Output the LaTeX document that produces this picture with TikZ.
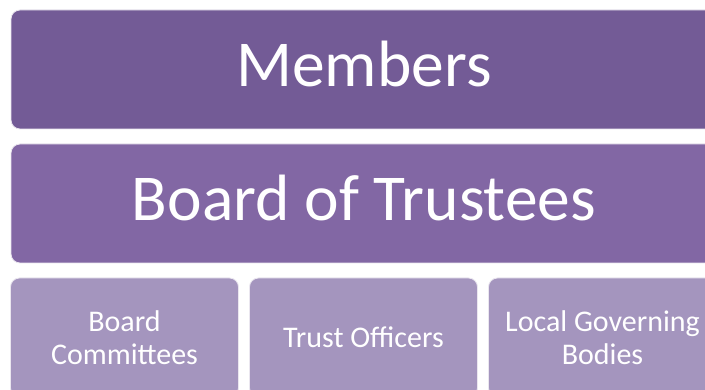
\documentclass[tikz,border=0pt]{standalone}
\usepackage{fontspec}
\setmainfont{Carlito}
\usepackage{tikz}
\usetikzlibrary{positioning}
\definecolor{TopPurple}{RGB}{115,91,150}
\definecolor{MidPurple}{RGB}{130,103,164}
\definecolor{LowPurple}{RGB}{164,149,190}
\tikzset{
  tierbox/.style={rectangle, rounded corners=9pt, draw=white!85!TopPurple, line width=0.8pt,
    text=white, align=center, inner sep=0pt},
  bigtier/.style={tierbox, minimum width=706pt, minimum height=119pt,
    text height=42pt, text depth=8pt, font=\fontsize{65.5}{72}\selectfont},
  smalltier/.style={tierbox, fill=LowPurple, minimum width=228pt, minimum height=119pt,
    font=\fontsize{30}{33}\selectfont}
}

\begin{document}
\begin{tikzpicture}[x=1pt, y=-1pt]
        \useasboundingbox (0,0) rectangle (705,390);
        \clip (0,0) rectangle (705,390);
        \fill[white] (0,0) rectangle (705,390);

        % Nodes
        \node[bigtier, fill=TopPurple] (members) at (364, 69.5) {Members};
        \node[bigtier, fill=MidPurple] (board) at (364, 203.5) {Board of Trustees};
        \node[smalltier] (committees) at (124.5, 337.5) {Board\\Committees};
        \node[smalltier] (officers) at (363.5, 337.5) {Trust Officers};
        \node[smalltier] (governing) at (602.5, 337.5) {Local Governing\\Bodies};
\end{tikzpicture}
\end{document}
